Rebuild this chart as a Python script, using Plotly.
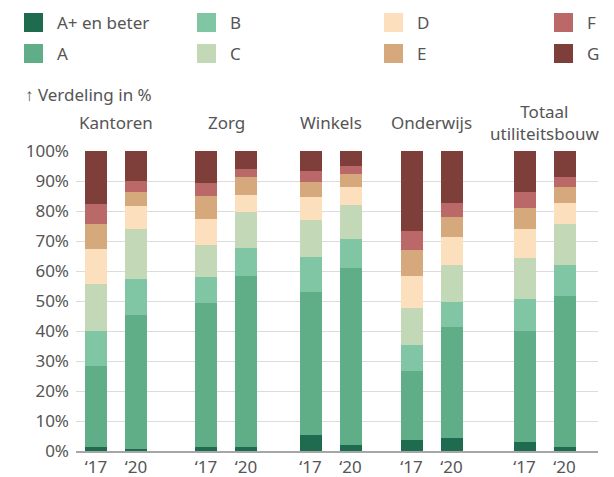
import plotly.graph_objects as go

# ---- data ----
groups = ["Kantoren", "Zorg", "Winkels", "Onderwijs", "Totaal<br>utiliteitsbouw"]
years = ["‘17", "‘20"]
labels = ["A+ en beter", "A", "B", "C", "D", "E", "F", "G"]
# values per label, order: Kantoren'17, Kantoren'20, Zorg'17, Zorg'20, Winkels'17, Winkels'20,
# Onderwijs'17, Onderwijs'20, Totaal'17, Totaal'20
a_plus = [1.3, 0.7, 1.3, 1.3, 5.3, 2.0, 3.7, 4.3, 3.0, 1.3]
a_vals = [27.0, 44.6, 48.0, 57.0, 47.7, 59.0, 23.0, 37.0, 37.0, 50.4]
b_vals = [11.7, 12.0, 8.7, 9.4, 11.7, 9.7, 8.6, 8.4, 10.7, 10.3]
c_vals = [15.7, 16.7, 10.7, 12.0, 12.3, 11.3, 12.4, 12.3, 13.6, 13.7]
d_vals = [11.6, 7.7, 8.6, 5.6, 7.7, 6.0, 10.6, 9.3, 9.7, 7.0]
e_vals = [8.4, 4.6, 7.7, 6.0, 5.0, 4.3, 8.7, 6.7, 7.0, 5.3]
f_vals = [6.6, 3.7, 4.3, 2.7, 3.6, 2.7, 6.3, 4.7, 5.3, 3.3]
g_vals = [17.7, 10.0, 10.7, 6.0, 6.7, 5.0, 26.7, 17.3, 13.7, 8.7]
y_ticks = [0, 10, 20, 30, 40, 50, 60, 70, 80, 90, 100]

series = [a_plus, a_vals, b_vals, c_vals, d_vals, e_vals, f_vals, g_vals]
colors = ["#1e6b50", "#5fae87", "#80c5a4", "#c2d8b6", "#fcdfbd", "#d6a97c", "#bb6868", "#7e3f3a"]

# ---- layout geometry (pixels) ----
W, H = 614, 477
L, R, T, B = 76, 598, 151, 451
group_center = [116, 226, 330.5, 431.5, 544.5]
offset = 20
bar_w = 22

xpos = []
for gc in group_center:
    xpos += [gc - offset, gc + offset]
tick_text = years * len(groups)

def px(x):
    return (x - L) / (R - L)

def py(y):
    return (B - y) / (B - T)

font = "Noto Sans, Open Sans, sans-serif"
txt = "#555555"

fig = go.Figure()
for name, vals, col in zip(labels, series, colors):
    fig.add_trace(go.Bar(x=xpos, y=vals, name=name, width=bar_w,
                         marker=dict(color=col, line=dict(width=0)),
                         showlegend=False))

annotations = []
shapes = []
# group titles
for g, gc in zip(groups, group_center):
    annotations.append(dict(text=g, x=gc, xref="x", y=py(122), yref="paper",
                            xanchor="center", yanchor="middle", showarrow=False,
                            font=dict(size=17, color=txt, family=font)))
# y axis title
annotations.append(dict(text="↑ Verdeling in %", x=px(23), xref="paper", y=py(94), yref="paper",
                        xanchor="left", yanchor="middle", showarrow=False,
                        font=dict(size=17, color=txt, family=font)))
# legend (2 rows x 4 columns, column-major)
col_x = [24, 197, 384, 554]
row_top = [13, 44]
sw = 19
for i, (name, col) in enumerate(zip(labels, colors)):
    c, r = i // 2, i % 2
    x0, y0 = col_x[c], row_top[r]
    shapes.append(dict(type="rect", xref="paper", yref="paper",
                       x0=px(x0), x1=px(x0 + sw), y0=py(y0), y1=py(y0 + sw),
                       fillcolor=col, line=dict(width=0)))
    annotations.append(dict(text=name, x=px(x0 + 31), xref="paper", y=py(y0 + sw / 2), yref="paper",
                            xanchor="left", yanchor="middle", showarrow=False,
                            font=dict(size=17, color=txt, family=font)))

fig.update_layout(
    template="none",
    width=W, height=H, autosize=False,
    margin=dict(l=L, r=W - R, t=T, b=H - B, pad=0, autoexpand=False),
    barmode="stack", bargap=0,
    plot_bgcolor="white", paper_bgcolor="white",
    font=dict(family=font, size=17, color=txt),
    xaxis=dict(range=[L, R], tickvals=xpos, ticktext=tick_text, showgrid=False,
               zeroline=False, showline=True, linecolor="#a6a6a6", linewidth=1.5,
               ticks="", tickfont=dict(size=17, color=txt), ticklabelstandoff=0,
               automargin=False, fixedrange=True),
    yaxis=dict(range=[0, 100], tickvals=y_ticks, ticktext=[f"{v}%" for v in y_ticks],
               showgrid=True, gridcolor="#dcdcdc", gridwidth=1, zeroline=False,
               ticks="", tickfont=dict(size=17, color=txt), ticklabelstandoff=6,
               automargin=False, fixedrange=True),
    annotations=annotations, shapes=shapes,
)

fig.write_html("out.html",
               config={"displayModeBar": False, "staticPlot": True},
               post_script="document.body.style.margin='0';document.body.style.overflow='hidden';")
